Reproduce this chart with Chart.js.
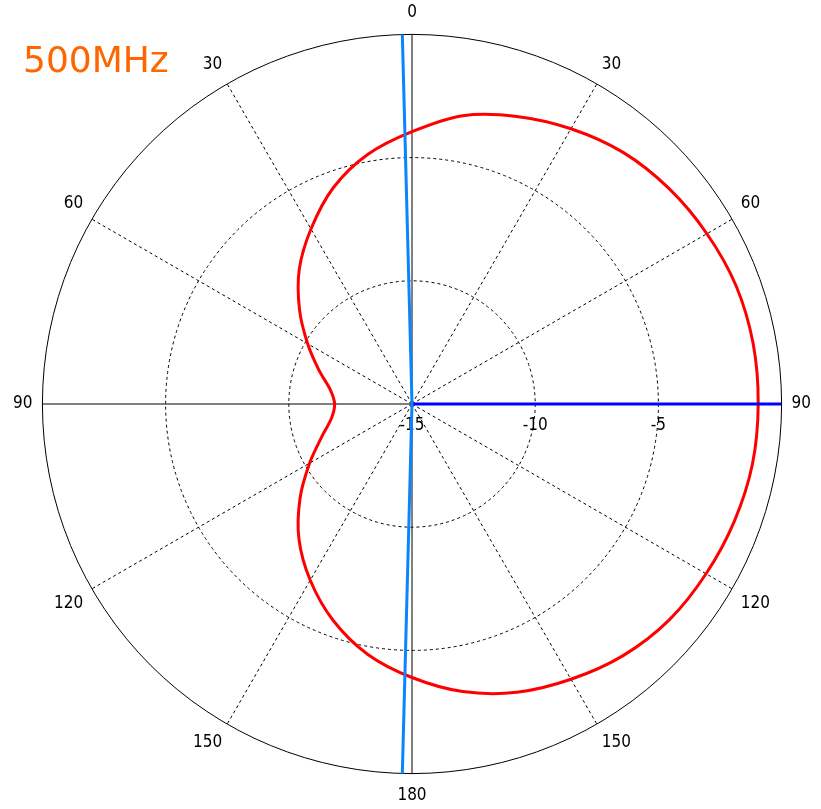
<!DOCTYPE html>
<html>
<head>
<meta charset="utf-8">
<script src="https://cdn.jsdelivr.net/npm/chart.js@4.4.0/dist/chart.umd.min.js"></script>
<style>
  html, body { margin: 0; padding: 0; background: #fff; }
  #wrap { position: relative; width: 821px; height: 809px; }
  #freq { position: absolute; left: 23px; top: 42px; font-family: "DejaVu Sans", sans-serif; font-size: 36px; line-height: 36px; color: #ff6600; }
</style>
</head>
<body>
<div id="wrap">
  <canvas id="myChart" width="821" height="809"></canvas>
  <div id="freq">500MHz</div>
</div>
<script>
// radar slots, one every half degree
const STEP = 0.5;
const angles = [];
for (let a = 0; a < 360; a += STEP) angles.push(a);

// red pattern (dB), read every 10 degrees
const patternAngles = [0, 10, 20, 30, 40, 50, 60, 70, 80, 90, 100, 110, 120, 130, 140, 150, 160, 170,
    180, 190, 200, 210, 220, 230, 240, 250, 260, 270, 280, 290, 300, 310, 320, 330, 340, 350];
const patternDb = [-3.95, -3.12, -2.58, -2.10, -1.67, -1.39, -1.18, -1.00, -0.94, -0.95, -0.97, -1.08, -1.22, -1.37, -1.67, -2.10, -2.55, -3.15,
    -3.90, -4.68, -5.65, -6.74, -7.86, -9.07, -10.20, -11.10, -11.68, -11.86, -11.63, -10.98, -10.11, -9.04, -7.88, -6.80, -5.66, -4.71];

// light blue trace
const traceAngles = [90, 181.5, 270, 358.5];
const traceDb = [-15, 0, -15, 0];

// dark blue marker
const markerAngles = [0, 90];
const markerDb = [-15, 0];

const rTicks = [-15, -10, -5];
const angleTicks = [0, 30, 60, 90, 120, 150, 180, 210, 240, 270, 300, 330];

function toSlots(angs, vals) {
    const arr = angles.map(() => null);
    angs.forEach((a, i) => { arr[Math.round(a / STEP)] = vals[i]; });
    return arr;
}

const tickLabels = {
    id: 'tickLabels',
    beforeDatasetsDraw(chart) {
        const s = chart.scales.r;
        const ctx = chart.ctx;
        ctx.save();
        ctx.font = '17px "DejaVu Sans Condensed", "DejaVu Sans"';
        ctx.fillStyle = '#000';
        ctx.textAlign = 'center';
        ctx.textBaseline = 'middle';
        rTicks.forEach(v => {
            ctx.fillText(String(v), s.xCenter + s.getDistanceFromCenterForValue(v), s.yCenter + 22);
        });
        ctx.restore();
    }
};

let data = {
    labels: angles,
    datasets: [{
        data: toSlots(traceAngles, traceDb),
        borderColor: '#0a84ff',
        borderWidth: 3,
        tension: 0,
        spanGaps: true,
        fill: false
    }, {
        data: toSlots(markerAngles, markerDb),
        borderColor: '#0000ff',
        borderWidth: 3,
        tension: 0,
        spanGaps: true,
        fill: false
    }, {
        data: toSlots(patternAngles, patternDb),
        borderColor: '#ff0000',
        borderWidth: 3,
        tension: 0.3,
        spanGaps: true,
        fill: false
    }]
};

let config = {
    type: 'radar',
    data: data,
    options: {
        responsive: false,
        animation: false,
        events: [],
        layout: { padding: { left: 4, right: 0, top: 2, bottom: 2 } },
        elements: { point: { radius: 0, hoverRadius: 0 } },
        plugins: { legend: { display: false }, tooltip: { enabled: false } },
        scales: {
            r: {
                min: -15,
                max: 0,
                ticks: { display: false, stepSize: 5 },
                grid: { circular: true, color: '#000', lineWidth: 1 },
                border: { dash: ctx => (ctx.tick && ctx.tick.value === 0) ? [] : [3, 3] },
                angleLines: {
                    color: '#000',
                    lineWidth: ctx => angleTicks.includes(angles[ctx.index]) ? 1 : 0,
                    borderDash: ctx => angles[ctx.index] % 90 === 0 ? [] : [3, 3]
                },
                pointLabels: {
                    color: '#000',
                    font: { family: '"DejaVu Sans Condensed", "DejaVu Sans"', size: 17 },
                    padding: ctx => (angles[ctx.index] === 0 || angles[ctx.index] === 180) ? 12 : 10,
                    callback: (label, i) => {
                        const a = angles[i];
                        if (!angleTicks.includes(a)) return '';
                        return String(a <= 180 ? a : 360 - a);
                    }
                }
            }
        }
    },
    plugins: [tickLabels]
};

let myChart = new Chart(document.getElementById('myChart'), config);
</script>
</body>
</html>
